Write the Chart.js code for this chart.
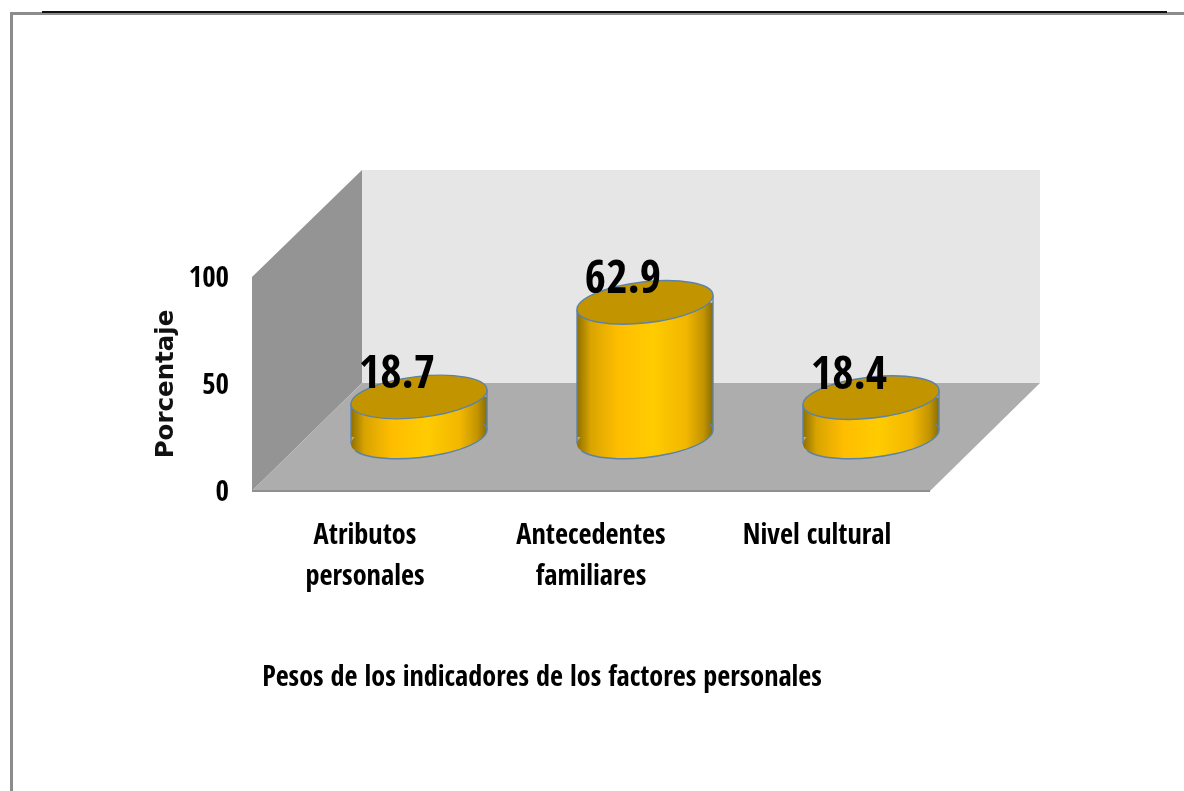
<!DOCTYPE html>
<html><head><meta charset="utf-8">
<style>html,body{margin:0;padding:0;background:#fff}canvas{display:block;filter:blur(0.4px)}</style>
<script src="https://cdn.jsdelivr.net/npm/chart.js@4"></script>
</head><body>
<canvas id="c" width="1184" height="791"></canvas>
<script>
const categories = [["Atributos","personales"],["Antecedentes","familiares"],"Nivel cultural"];
const values = [18.7, 62.9, 18.4];
const valueLabels = ["18.7", "62.9", "18.4"];
const yTicks = [0, 50, 100];
const yTitle = "Porcentaje";
const xTitle = "Pesos de los indicadores de los factores personales";

const NARROW = '"Open Sans Condensed", "Open Sans"';
const DEPTH = 54, TILT = -6.5 * Math.PI / 180, RY = 20.5;

function barGradient(ctx, cx, w) {
  const g = ctx.createLinearGradient(cx - w / 2, 0, cx + w / 2, 0);
  g.addColorStop(0, '#8f7000');
  g.addColorStop(0.1, '#d9a400');
  g.addColorStop(0.3, '#ffbd00');
  g.addColorStop(0.55, '#ffcc00');
  g.addColorStop(0.8, '#f2b700');
  g.addColorStop(0.93, '#c29400');
  g.addColorStop(1, '#8a6c00');
  return g;
}
function bars(chart) {
  return chart.getDatasetMeta(0).data.map(b => {
    const p = b.getProps(['x', 'y', 'base', 'width'], true);
    return { x: p.x, top: p.y, base: p.base, w: p.width };
  });
}
const S = Math.sin(TILT), C = Math.cos(TILT);
const rxOf = b => Math.sqrt((b.w * b.w / 4 - RY * RY * S * S) / (C * C));
const dy = b => { const rx = rxOf(b); return (rx * rx - RY * RY) * Math.abs(S) * C / (b.w / 2); };

const cylinder = {
  id: 'cylinder',
  beforeDatasetsDraw(chart) {
    const { ctx, scales: { x, y } } = chart;
    const x0 = x.left, x1 = x.right, y0 = y.getPixelForValue(0), y1 = y.getPixelForValue(100);
    // frame
    ctx.save();
    ctx.fillStyle = '#8c8c8c';
    ctx.fillRect(10, 12, 1174, 3);
    ctx.fillRect(10, 12, 3, 779);
    ctx.fillStyle = '#111';
    ctx.fillRect(42, 11, 1125, 2);
    // walls
    const poly = (c, pts) => { ctx.fillStyle = c; ctx.beginPath(); pts.forEach((p, i) => i ? ctx.lineTo(p[0], p[1]) : ctx.moveTo(p[0], p[1])); ctx.closePath(); ctx.fill(); };
    const D = 110;
    const backTop = y1 - 107, backBot = y0 - 108;
    poly('#e6e6e6', [[x0 + D, backTop], [x1 + D, backTop], [x1 + D, backBot], [x0 + D, backBot]]);
    poly('#949494', [[x0, y1], [x0 + D, backTop], [x0 + D, backBot], [x0, y0]]);
    poly('#adadad', [[x0, y0], [x0 + D, backBot], [x1 + D, backBot], [x1, y0]]);
    ctx.fillStyle = '#8f8f8f';
    ctx.fillRect(x0, y0 - 1, x1 - x0, 2);
    ctx.restore();

    // bars: shifted to the middle of the floor depth, clipped to the cylinder silhouette
    ctx.save();
    ctx.translate(DEPTH, -DEPTH);
    bars(chart).forEach(b => {
      ctx.fillStyle = barGradient(ctx, b.x, b.w);
      ctx.beginPath();
      ctx.ellipse(b.x, b.base, rxOf(b), RY, TILT, 0, Math.PI * 2);
      ctx.fill();
    });
    ctx.beginPath();
    bars(chart).forEach(b => {
      const d = dy(b), l = b.x - b.w / 2, r = b.x + b.w / 2;
      ctx.moveTo(l, b.top + d); ctx.lineTo(r, b.top - d); ctx.lineTo(r, b.base - d); ctx.lineTo(l, b.base + d); ctx.closePath();
    });
    ctx.clip();
  },
  afterDatasetsDraw(chart) {
    const { ctx } = chart;
    ctx.restore();
    ctx.save();
    ctx.translate(DEPTH, -DEPTH);
    ctx.strokeStyle = '#5b83a8';
    ctx.lineWidth = 1.4;
    bars(chart).forEach(b => {
      const d = dy(b), l = b.x - b.w / 2, r = b.x + b.w / 2, rx = rxOf(b);
      ctx.beginPath();
      ctx.moveTo(l, b.top + d); ctx.lineTo(l, b.base + d);
      ctx.moveTo(r, b.top - d); ctx.lineTo(r, b.base - d);
      ctx.stroke();
      ctx.beginPath();
      ctx.ellipse(b.x, b.base, rx, RY, TILT, -0.33, Math.PI - 0.33);
      ctx.stroke();
      ctx.beginPath();
      ctx.ellipse(b.x, b.top, rx, RY, TILT, 0, Math.PI * 2);
      ctx.fillStyle = '#c29400';
      ctx.fill();
      ctx.stroke();
    });
    ctx.restore();
    // value labels
    ctx.save();
    ctx.fillStyle = '#000';
    ctx.textAlign = 'center';
    ctx.textBaseline = 'middle';
    ctx.font = 'bold 46px ' + NARROW;
    bars(chart).forEach((b, i) => ctx.fillText(valueLabels[i], b.x + DEPTH - 22, b.top - DEPTH - 21));
    // bottom caption
    ctx.font = 'bold 28.2px ' + NARROW;
    ctx.fillText(xTitle, 542, 679);
    ctx.restore();
  }
};

new Chart(document.getElementById('c'), {
  type: 'bar',
  data: {
    labels: categories,
    datasets: [{
      data: values,
      borderWidth: 0,
      barPercentage: 0.6017,
      categoryPercentage: 1,
      backgroundColor: c => {
        const xs = c.chart.scales.x;
        const cx = xs ? xs.getPixelForValue(c.dataIndex) : NaN;
        const w = xs ? (xs.right - xs.left) / categories.length * 0.6017 : NaN;
        if (!Number.isFinite(cx) || !Number.isFinite(w)) return '#ffcc00';
        return barGradient(c.chart.ctx, cx, w);
      }
    }]
  },
  options: {
    responsive: false,
    animation: false,
    layout: { padding: { left: 150, right: 254, top: 277, bottom: 150 } },
    plugins: { legend: { display: false }, tooltip: { enabled: false } },
    scales: {
      x: {
        grid: { display: false, drawTicks: false },
        border: { display: false },
        afterFit: s => { s.height = 150; },
        ticks: {
          color: '#000', padding: 25, maxRotation: 0, autoSkip: false,
          font: { family: NARROW, weight: 'bold', size: 28.3, lineHeight: 41 / 28.3 }
        }
      },
      y: {
        min: 0, max: 100,
        afterFit: s => { s.width = 102; },
        afterBuildTicks: s => { s.ticks = yTicks.map(v => ({ value: v })); },
        grid: { display: false, drawTicks: false },
        border: { display: false },
        title: {
          display: true, text: yTitle, color: '#111', padding: { top: 2, bottom: 0 },
          font: { family: '"DejaVu Sans"', weight: 'bold', size: 24.5 }
        },
        ticks: {
          color: '#000', padding: 23, labelOffset: 2.5,
          font: { family: NARROW, weight: 'bold', size: 29 }
        }
      }
    }
  },
  plugins: [cylinder]
});
</script>
</body></html>
